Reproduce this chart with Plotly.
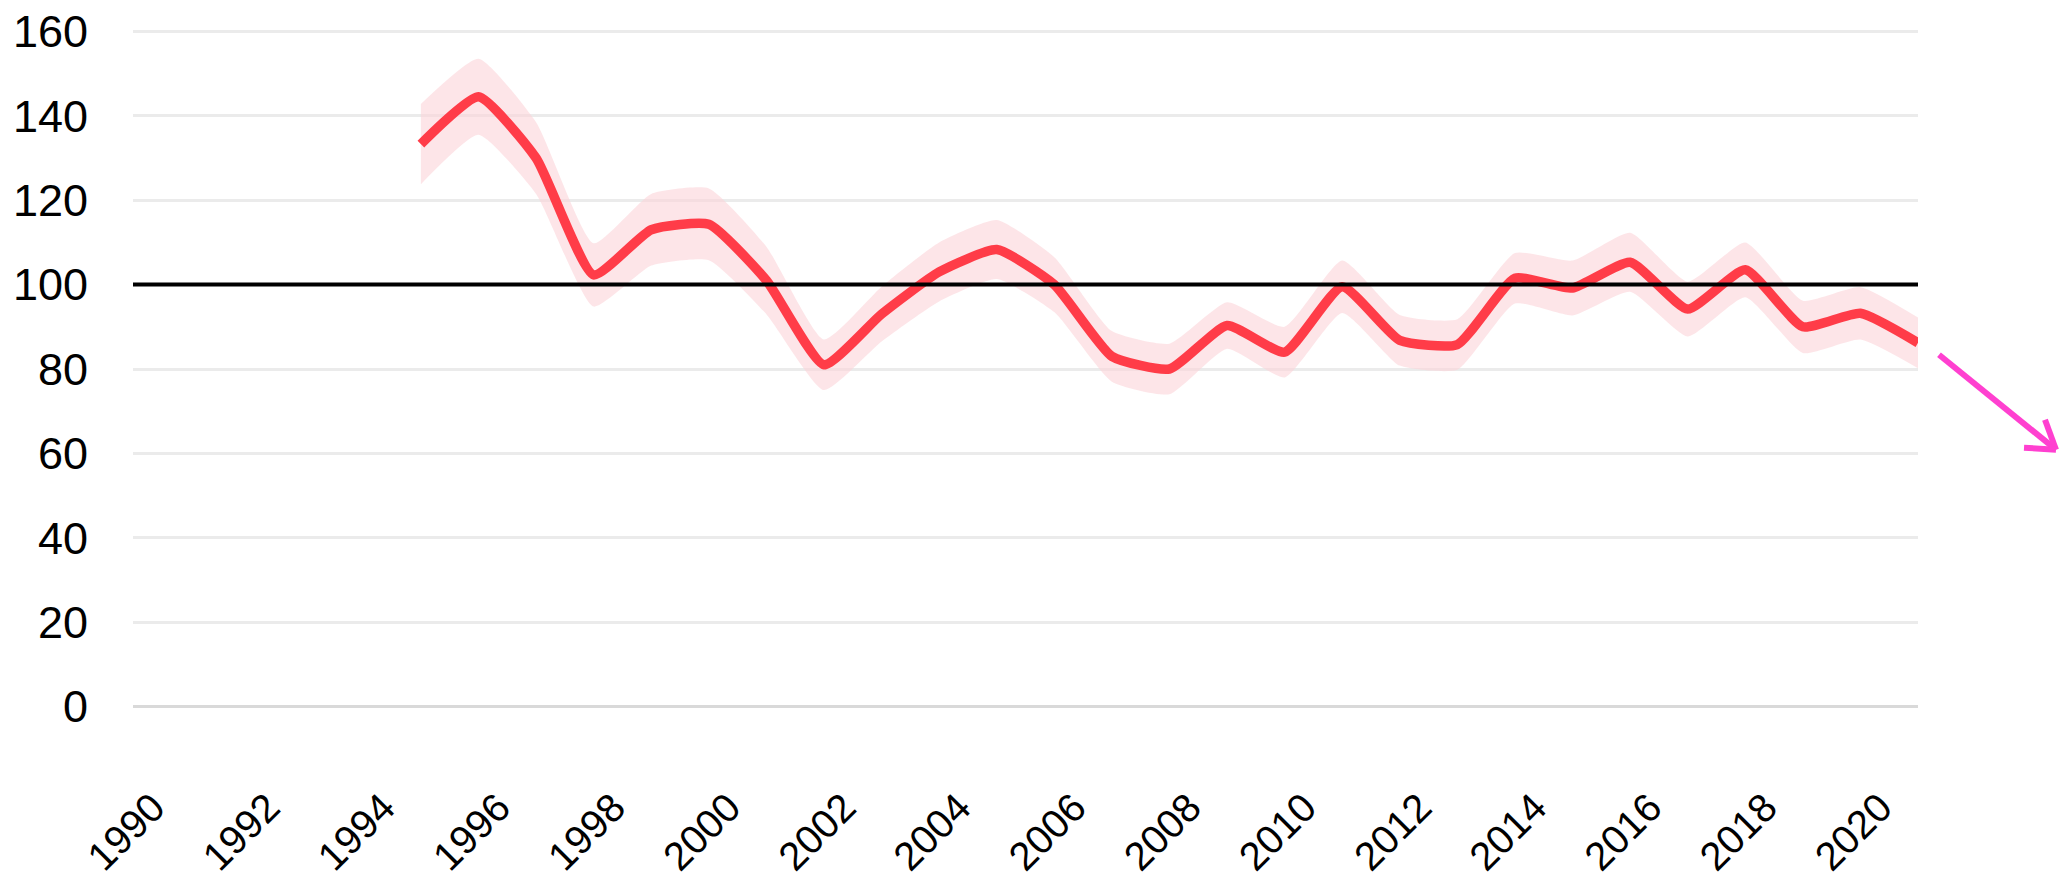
import plotly.graph_objects as go

years = list(range(1995, 2022))
values = [133.3, 144.5, 130.0, 102.3, 113.0, 114.3, 101.0, 81.0, 93.0, 103.0,
          108.3, 100.0, 83.0, 80.0, 90.3, 84.0, 99.5, 86.8, 85.8, 101.5,
          99.2, 105.3, 94.2, 103.5, 90.0, 93.2, 86.2]
band_half = [9.5, 9.0, 8.5, 7.5, 8.5, 8.5, 8.0, 6.0, 6.5, 7.0,
             7.0, 6.5, 6.0, 6.0, 5.5, 6.0, 6.2, 6.0, 6.0, 6.0,
             6.5, 7.0, 6.5, 6.5, 6.2, 6.2, 6.0]
upper = [v + h for v, h in zip(values, band_half)]
lower = [v - h for v, h in zip(values, band_half)]
x_ticks = list(range(1990, 2021, 2))
y_ticks = list(range(0, 161, 20))
REFERENCE = 100

W, H = 2060, 893
ML, MR, MT, MB = 133, 142, 23, 177.5
PW, PH = W - ML - MR, H - MT - MB


def paper(px, py):
    return (px - ML) / PW, (H - MB - py) / PH


fig = go.Figure()
fig.add_trace(go.Scatter(x=years, y=upper, mode="lines", line=dict(width=0, shape="spline", smoothing=0.5),
                         hoverinfo="skip", showlegend=False))
fig.add_trace(go.Scatter(x=years, y=lower, mode="lines", line=dict(width=0, shape="spline", smoothing=0.5),
                         fill="tonexty", fillcolor="rgba(252,212,216,0.6)", hoverinfo="skip", showlegend=False))
fig.add_shape(type="line", xref="paper", x0=0, x1=1, yref="y", y0=REFERENCE, y1=REFERENCE,
              line=dict(color="black", width=4), layer="above")
fig.add_trace(go.Scatter(x=years, y=values, mode="lines",
                         line=dict(color="#ff3c48", width=9.5, shape="spline", smoothing=0.5),
                         showlegend=False, cliponaxis=False))

# magenta arrow outside the plot area
tail = paper(1939, 355)
tip = paper(2056, 450)
arm1 = paper(2045, 420)
arm2 = paper(2024, 448)
arrow_color = "#ff40d0"
for a, b in [(tail, tip), (arm1, tip), (arm2, tip)]:
    fig.add_shape(type="line", xref="paper", yref="paper", x0=a[0], y0=a[1], x1=b[0], y1=b[1],
                  line=dict(color=arrow_color, width=6))

fig.update_layout(
    width=W, height=H,
    margin=dict(l=ML, r=MR, t=MT, b=MB),
    plot_bgcolor="white", paper_bgcolor="white",
    font=dict(family="Liberation Sans, Arial, sans-serif", size=44, color="black"),
)
fig.update_xaxes(range=[1990, 2021], tickvals=x_ticks, ticktext=[str(t) for t in x_ticks],
                 tickangle=-45, showgrid=False, zeroline=False, showline=False, automargin=False,
                 ticks="", ticklabelstandoff=60, ticklabelshift=20,
                 tickfont=dict(size=40))
fig.update_yaxes(range=[-2, 162], tickvals=y_ticks, showgrid=True, gridcolor="#ebebeb", gridwidth=2.5,
                 zeroline=True, zerolinecolor="#d9d9d9", zerolinewidth=3, showline=False, automargin=False,
                 ticks="", ticklabelstandoff=44, tickfont=dict(size=45))

fig.write_html("out.html", config={"displayModeBar": False},
               post_script="document.body.style.margin='0';document.body.style.overflow='hidden';")
